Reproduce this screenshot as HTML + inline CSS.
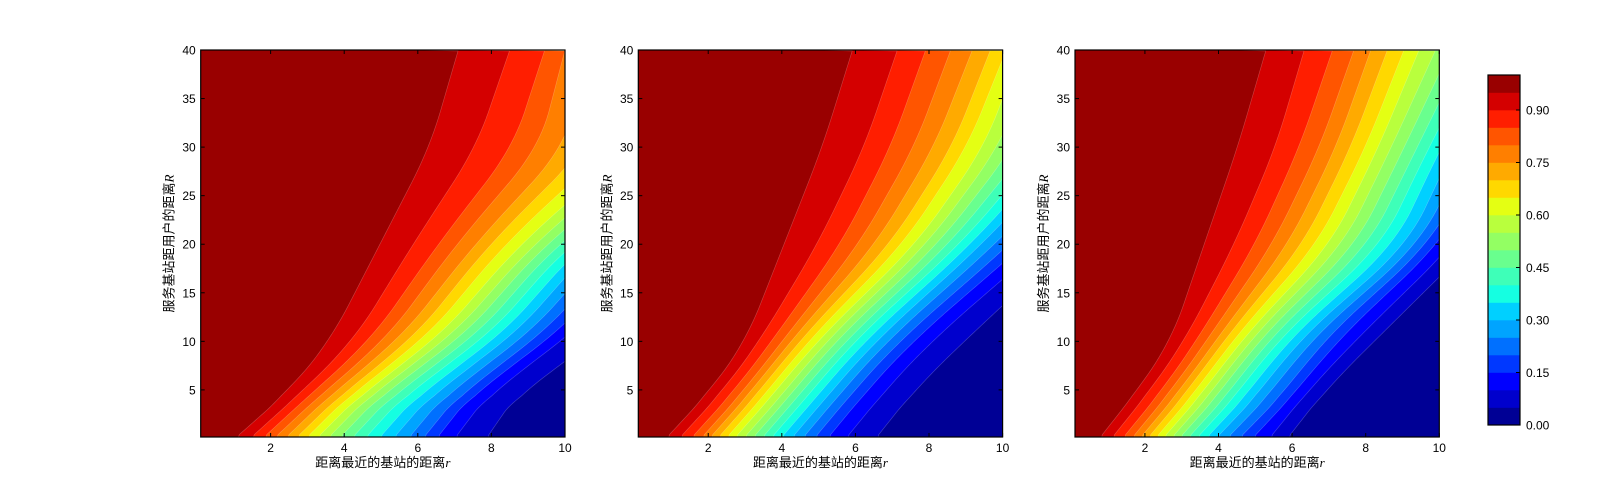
<!DOCTYPE html>
<html><head><meta charset="utf-8">
<style>
html,body{margin:0;padding:0;background:#fff;}
svg{display:block;}
text{font-family:"Liberation Sans","Noto Sans CJK SC",sans-serif;fill:#000;}
</style></head>
<body>
<svg id="chart" width="1600" height="500" viewBox="0 0 1600 500" xmlns="http://www.w3.org/2000/svg"></svg>
<script>
// ---- data: r-crossings of each contour level (0.95 down to 0.05) at given R rows ----
const rowsR = [0, 5, 10, 20, 30, 40];
const levels = [0.95,0.90,0.85,0.80,0.75,0.70,0.65,0.60,0.55,0.50,0.45,0.40,0.35,0.30,0.25,0.20,0.15,0.10,0.05];
// panel 1
const p1R0  = [1.03,1.44,1.78,2.09,2.39,2.68,2.96,3.25,3.55,3.86,4.20,4.56,4.94,5.33,5.74,6.14,6.51,7.00,7.86];
const p1R5  = [2.52,2.90,3.21,3.50,3.77,4.04,4.29,4.56,4.83,5.12,5.43,5.76,6.11,6.47,6.84,7.21,7.55,8.00,8.77];
const p1R10 = [3.61,4.25,4.70,5.10,5.47,5.82,6.15,6.48,6.80,7.12,7.45,7.78,8.12,8.47,8.83,9.20,9.58,10.0,10.9];
const p1R20 = [4.97,5.87,6.55,7.05,7.55,7.95,8.36,8.77,9.13,9.45,9.77,10.1,10.45,10.8,11.2,11.6,12.0,12.5,13.3];
const p1R30 = [6.33,7.59,8.59,9.31,10.0,10.6,11.2,11.8,12.3,12.8,13.3,13.8,14.3,14.8,15.3,15.8,16.4,17.0,18.0];
const p1R40 = [7.10,8.50,9.45,10.0,10.6,11.2,11.8,12.4,13.0,13.5,14.0,14.5,15.0,15.5,16.0,16.6,17.2,17.9,18.9];
// panel 2
const p2R0  = [0.85,1.21,1.53,1.80,2.03,2.25,2.48,2.71,2.96,3.20,3.45,3.70,3.97,4.26,4.56,4.88,5.24,5.74,6.55];
const p2R5  = [2.07,2.42,2.73,2.99,3.21,3.43,3.65,3.87,4.12,4.35,4.59,4.84,5.10,5.38,5.67,5.98,6.33,6.82,7.60];
const p2R10 = [3.02,3.39,3.72,4.00,4.23,4.46,4.70,4.94,5.19,5.44,5.70,5.95,6.23,6.53,6.84,7.17,7.54,8.05,8.95];
const p2R20 = [4.06,4.97,5.60,6.10,6.55,6.95,7.30,7.65,7.95,8.25,8.55,8.85,9.15,9.45,9.80,10.2,10.6,11.1,11.8];
const p2R30 = [5.10,6.24,6.96,7.60,8.14,8.63,9.04,9.50,9.90,10.3,10.7,11.1,11.5,11.9,12.4,12.9,13.4,14.0,15.0];
const p2R40 = [5.92,7.14,7.91,8.59,9.18,9.67,10.1,10.5,10.95,11.4,11.85,12.3,12.8,13.3,13.8,14.4,15.0,15.7,16.7];
// panel 3
const p3R0  = [0.76,1.09,1.39,1.64,1.86,2.07,2.28,2.49,2.71,2.93,3.16,3.40,3.66,3.93,4.23,4.56,4.92,5.38,5.87];
const p3R5  = [1.80,2.15,2.47,2.73,2.97,3.19,3.42,3.64,3.88,4.11,4.36,4.61,4.89,5.18,5.50,5.85,6.15,6.45,6.90];
const p3R10 = [2.71,3.07,3.39,3.66,3.90,4.12,4.35,4.58,4.81,5.05,5.30,5.56,5.84,6.13,6.45,6.81,7.20,7.69,8.23];
const p3R20 = [3.61,4.43,5.00,5.47,5.90,6.30,6.68,7.05,7.40,7.75,8.10,8.45,8.80,9.15,9.45,9.72,10.0,10.4,10.9];
const p3R30 = [4.52,5.55,6.20,6.75,7.20,7.60,8.00,8.35,8.70,9.05,9.40,9.72,10.05,10.4,10.8,11.2,11.6,12.1,12.7];
const p3R40 = [5.29,6.33,7.10,7.68,8.14,8.59,9.04,9.45,9.90,10.3,10.7,11.1,11.5,12.0,12.5,13.0,13.5,14.1,14.8];

const xTicks = [2,4,6,8,10];
const yTicks = [5,10,15,20,25,30,35,40];
const cbTicks = [0.00,0.15,0.30,0.45,0.60,0.75,0.90];
// band colours bottom (0-0.05) to top (0.95-1)
const bandColors = ["#000095","#0000cd","#0000ff","#0038ff","#0070ff","#00a4ff","#00d0ff","#15ffe1","#3effb8","#69ff8e","#93ff63","#b9ff3d","#e4ff13","#ffd800","#ffaa00","#ff7f00","#ff5500","#ff1e00","#d40000","#990000"];

const panels = [
  {left:200.7, rows:[p1R0,p1R5,p1R10,p1R20,p1R30,p1R40]},
  {left:638.3, rows:[p2R0,p2R5,p2R10,p2R20,p2R30,p2R40]},
  {left:1075,  rows:[p3R0,p3R5,p3R10,p3R20,p3R30,p3R40]}
];
const PW = 364.3, TOP = 50, BOT = 437;
const R_MIN = 0.15, R_MAX = 40, r_MIN = 0.1, r_MAX = 10;
const NS = "http://www.w3.org/2000/svg";
const svg = document.getElementById('chart');

function xScale(p, r){ return p.left + (r - r_MIN) / (r_MAX - r_MIN) * PW; }
function yScale(R){ return BOT - (R - R_MIN) / (R_MAX - R_MIN) * (BOT - TOP); }

function linInterp(xs, ys, x){
  const n = xs.length;
  if (x <= xs[0]) return ys[0];
  if (x >= xs[n-1]) return ys[n-1] + (x - xs[n-1]) * (ys[n-1]-ys[n-2])/(xs[n-1]-xs[n-2]);
  let i = 0; while (i < n - 2 && x > xs[i+1]) i++;
  const t = (x - xs[i])/(xs[i+1]-xs[i]);
  return ys[i] + t*(ys[i+1]-ys[i]);
}
// smoothed curve: moving average of the piecewise-linear crossing, window shrinks near R=0
function smoothInterp(xs, ys, x){
  const w = Math.min(3.5, x * 0.8);
  if (w < 0.05) return linInterp(xs, ys, x);
  let s = 0, c = 0;
  for (let j = -6; j <= 6; j++) { s += linInterp(xs, ys, x + w*j/6); c++; }
  return s / c;
}
function mk(tag, attrs){ const e=document.createElementNS(NS,tag); for (const k in attrs) e.setAttribute(k, attrs[k]); return e; }

const defs = mk('defs',{}); svg.appendChild(defs);

panels.forEach((p, pi) => {
  const g = mk('g',{});
  
  
  svg.appendChild(g);
  const right = xScale(p, r_MAX);
  const cp = mk('clipPath',{id:'clip'+pi});
  cp.appendChild(mk('rect',{x:p.left, y:TOP, width:right-p.left, height:BOT-TOP}));
  defs.appendChild(cp);
  const fillG = mk('g',{'clip-path':'url(#clip'+pi+')'});
  g.appendChild(fillG);
  const bg = mk('rect',{x:p.left, y:TOP, width:right-p.left, height:BOT-TOP, fill:bandColors[0]});
  
  
  fillG.appendChild(bg);
  for (let k = levels.length - 1; k >= 0; k--) {
    const ys = p.rows.map(row => row[k]);
    const pts = [];
    for (let R = R_MIN; R <= R_MAX + 0.001; R += 0.25) {
      let r = smoothInterp(rowsR, ys, R);
      let x = Math.min(xScale(p, r), right + 10);
      pts.push(x.toFixed(2) + ',' + yScale(R).toFixed(2));
    }
    pts.push((p.left-5) + ',' + (TOP-5));
    pts.push((p.left-5) + ',' + (BOT+5));
    pts[0] = pts[0].split(',')[0] + ',' + (BOT+5);
    const bandIdx = Math.round(levels[k] / 0.05);
    const poly = mk('polygon',{points:pts.join(' '), fill:bandColors[bandIdx], stroke:'#ffffff', 'stroke-opacity':'0.25', 'stroke-width':'0.6'});
    
    
    fillG.appendChild(poly);
  }
  const frame = mk('rect',{x:p.left, y:TOP, width:right-p.left, height:BOT-TOP, fill:'none', stroke:'#000', 'stroke-width':'1.2'});
  
  
  g.appendChild(frame);
  xTicks.forEach(t => {
    const x = xScale(p, t);
    g.appendChild(mk('line',{x1:x,x2:x,y1:BOT,y2:BOT-4,stroke:'#000'}));
    g.appendChild(mk('line',{x1:x,x2:x,y1:TOP,y2:TOP+4,stroke:'#000'}));
    const tx = mk('text',{x:x, y:BOT+15, 'text-anchor':'middle', 'font-size':'12'});
    tx.textContent = t;
    
    
    g.appendChild(tx);
  });
  yTicks.forEach(t => {
    const y = yScale(t);
    g.appendChild(mk('line',{x1:p.left,x2:p.left+4,y1:y,y2:y,stroke:'#000'}));
    g.appendChild(mk('line',{x1:right,x2:right-4,y1:y,y2:y,stroke:'#000'}));
    const ty = mk('text',{x:p.left-5, y:y+4.5, 'text-anchor':'end', 'font-size':'12'});
    ty.textContent = t;
    
    
    g.appendChild(ty);
  });
  const xl = mk('text',{x:(p.left+right)/2, y:467, 'text-anchor':'middle', 'font-size':'13'});
  xl.innerHTML = '距离最近的基站的距离<tspan font-family="Liberation Serif, serif" font-style="italic">r</tspan>';
  
  
  g.appendChild(xl);
  const yc = (TOP+BOT)/2, yx = p.left - 27;
  const yl = mk('text',{x:yx, y:yc, 'text-anchor':'middle', 'font-size':'13', transform:'rotate(-90 '+yx+' '+yc+')'});
  yl.innerHTML = '服务基站距用户的距离<tspan font-family="Liberation Serif, serif" font-style="italic">R</tspan>';
  
  
  g.appendChild(yl);
});

const CB = {x:1488, w:32, top:75, bot:425};
const cbG = mk('g',{});


svg.appendChild(cbG);
function cbScale(v){ return CB.bot - v * (CB.bot - CB.top); }
bandColors.forEach((c, i) => {
  const y1 = cbScale((i+1)*0.05), y0 = cbScale(i*0.05);
  const r = mk('rect',{x:CB.x, y:y1, width:CB.w, height:(y0-y1)+0.3, fill:c});
  
  
  cbG.appendChild(r);
});
cbG.appendChild(mk('rect',{x:CB.x, y:CB.top, width:CB.w, height:CB.bot-CB.top, fill:'none', stroke:'#000', 'stroke-width':'1.2'}));
cbTicks.forEach(t => {
  const y = cbScale(t);
  cbG.appendChild(mk('line',{x1:CB.x+CB.w-4, x2:CB.x+CB.w, y1:y, y2:y, stroke:'#000'}));
  const tl = mk('text',{x:CB.x+CB.w+6, y:y+4.5, 'font-size':'12'});
  tl.textContent = t.toFixed(2);
  
  
  cbG.appendChild(tl);
});
</script>
</body></html>
